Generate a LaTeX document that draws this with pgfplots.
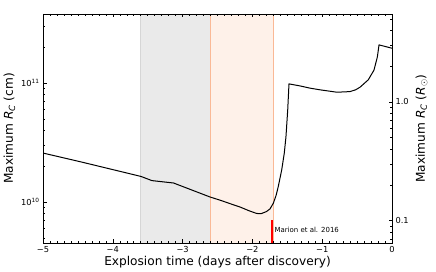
\documentclass[border=0pt]{standalone}
\usepackage{fontspec}
\setmainfont{DejaVu Sans}
\usepackage{pgfplots}
\pgfplotsset{compat=1.18}
\definecolor{greyfill}{RGB}{234,234,234}
\definecolor{greyedge}{RGB}{214,214,214}
\definecolor{orfill}{RGB}{254,241,233}
\definecolor{oredge}{RGB}{250,185,150}
\begin{document}
\begin{tikzpicture}
\pgfplotsset{
  every axis/.append style={
    scale only axis, width=349bp, height=229bp,
    xmin=-5, xmax=0,
    tick align=inside,
    major tick length=3.5bp, minor tick length=2bp,
    every tick/.style={black, line width=0.5bp},
    tick label style={font=\fontsize{8.3}{10}\selectfont},
    label style={font=\fontsize{12.2}{14}\selectfont},
  }
}
\begin{axis}[
  ymode=log, ymin=4.52e9, ymax=3.82e11,
  ytick pos=left,
  xtick={-5,-4,-3,-2,-1,0},
  xticklabels={−5,−4,−3,−2,−1,0},
  minor x tick num=9,
  ytick={1e10,1e11},
  yticklabels={10\textsuperscript{10},10\textsuperscript{11}},
  minor ytick={5e9,6e9,7e9,8e9,9e9,2e10,3e10,4e10,5e10,6e10,7e10,8e10,9e10,2e11,3e11},
  xlabel={Explosion time (days after discovery)},
  ylabel={Maximum \textit{R}\textsubscript{\textit{C}} (cm)},
  xlabel style={yshift=3.5bp},
  ylabel style={yshift=-1bp},
  axis line style={line width=0.8bp},
  axis on top,
]
\addplot[fill=greyfill, draw=greyedge, line width=0.6bp] coordinates {(-3.6,4.52e9) (-3.6,3.82e11) (-2.6,3.82e11) (-2.6,4.52e9)} -- cycle;
\addplot[fill=orfill, draw=oredge, line width=0.8bp] coordinates {(-2.6,4.52e9) (-2.6,3.82e11) (-1.70,3.82e11) (-1.70,4.52e9)} -- cycle;
\addplot[red, line width=1.6bp] coordinates {(-1.72,4.52e9) (-1.72,7.0e9)};
\node[anchor=west, font=\fontsize{7}{8}\selectfont, inner sep=1bp] at (axis cs:-1.70,5.85e9) {Marion et al. 2016};
\addplot[black, line width=1bp, line join=round] coordinates {
(-5,2.582e10) (-4.446,2.168e10) (-3.596,1.641e10) (-3.44,1.514e10) (-3.13,1.445e10)
(-2.607,1.102e10) (-2.45,1.03e10) (-2.274,9.48e9) (-2.178,9.08e9) (-2.05,8.45e9)
(-1.95,8.05e9) (-1.915,7.98e9) (-1.87,8.0e9) (-1.80,8.3e9) (-1.748,8.75e9) (-1.70,9.77e9)
(-1.66,1.14e10) (-1.629,1.352e10) (-1.58,1.866e10) (-1.543,2.582e10) (-1.519,3.556e10) (-1.494,5.97e10)
(-1.476,9.86e10) (-1.318,9.48e10) (-1.175,9.08e10) (-1.032,8.79e10) (-0.79,8.39e10)
(-0.602,8.49e10) (-0.52,8.8e10) (-0.458,9.25e10) (-0.34,1.067e11) (-0.258,1.288e11) (-0.21,1.660e11)
(-0.186,2.099e11) (0,1.968e11)};
\end{axis}
\begin{axis}[
  ymode=log, ymin=0.06494, ymax=5.489,
  axis y line*=right, axis x line=none,
  ytick={0.1,1},
  yticklabels={0.1,1.0},
  minor ytick={0.07,0.08,0.09,0.2,0.3,0.4,0.5,0.6,0.7,0.8,0.9,2,3,4,5},
  ylabel={Maximum \textit{R}\textsubscript{\textit{C}} (\textit{R}$_\odot$)},
  axis line style={line width=0.8bp},
]
\addplot[draw=none] coordinates {(-5,1) (0,1)};
\end{axis}
\path ([xshift=-43bp,yshift=-27bp]current axis.south west) rectangle ([xshift=44bp,yshift=14bp]current axis.north east);
\end{tikzpicture}
\end{document}
